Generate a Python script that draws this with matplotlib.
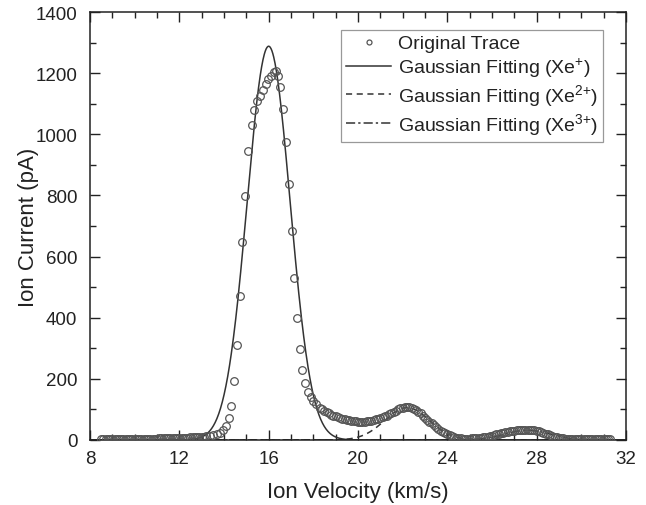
import matplotlib
matplotlib.use("Agg")
import matplotlib.pyplot as plt
import numpy as np
from matplotlib.ticker import MultipleLocator

plt.rcParams['font.family'] = ['Liberation Sans', 'DejaVu Sans']
plt.rcParams['mathtext.default'] = 'regular'

# Original trace (ion velocity in km/s, ion current in pA)
velocity = [
    8.5, 8.6, 8.7, 8.8, 8.9, 9.0, 9.1, 9.2, 9.3, 9.4,
    9.5, 9.6, 9.7, 9.8, 9.9, 10.0, 10.1, 10.2, 10.3, 10.4,
    10.5, 10.6, 10.7, 10.8, 10.9, 11.0, 11.1, 11.2, 11.3, 11.4,
    11.5, 11.6, 11.7, 11.8, 11.9, 12.0, 12.1, 12.2, 12.3, 12.4,
    12.5, 12.6, 12.7, 12.8, 12.9, 13.0, 13.1, 13.2,
    13.37, 13.52, 13.67, 13.82, 13.97, 14.10, 14.22, 14.33, 14.46, 14.58,
    14.71, 14.82, 14.94, 15.09, 15.24, 15.36, 15.48, 15.63, 15.76, 15.88,
    15.99, 16.10, 16.22, 16.32, 16.43, 16.52, 16.63, 16.78, 16.93, 17.03,
    17.15, 17.27, 17.40, 17.51, 17.63, 17.75, 17.88, 18.00, 18.14, 18.29,
    18.4, 18.5, 18.6, 18.7, 18.8, 18.9, 19.0, 19.1, 19.2, 19.3,
    19.4, 19.5, 19.6, 19.7, 19.8, 19.9, 20.0, 20.1, 20.2, 20.3,
    20.4, 20.5, 20.6, 20.7, 20.8, 20.9, 21.0, 21.1, 21.2, 21.3,
    21.4, 21.5, 21.6, 21.7, 21.8, 21.9, 22.0, 22.1, 22.2, 22.3,
    22.4, 22.5, 22.6, 22.7, 22.8, 22.9, 23.0, 23.1, 23.2, 23.3,
    23.4, 23.5, 23.6, 23.7, 23.8, 23.9, 24.0, 24.1, 24.2, 24.3,
    24.4, 24.5, 24.6, 24.7, 24.8, 24.9, 25.0, 25.1, 25.2, 25.3,
    25.4, 25.5, 25.6, 25.7, 25.8, 25.9, 26.0, 26.1, 26.2, 26.3,
    26.4, 26.5, 26.6, 26.7, 26.8, 26.9, 27.0, 27.1, 27.2, 27.3,
    27.4, 27.5, 27.6, 27.7, 27.8, 27.9, 28.0, 28.1, 28.2, 28.3,
    28.4, 28.5, 28.6, 28.7, 28.8, 28.9, 29.0, 29.1, 29.2, 29.3,
    29.4, 29.5, 29.6, 29.7, 29.8, 29.9, 30.0, 30.1, 30.2, 30.3,
    30.4, 30.5, 30.6, 30.7, 30.8, 30.9, 31.0, 31.1, 31.2, 31.3,
]
current = [
    3, 3, 3, 3, 3, 3, 3, 3, 3, 3,
    3, 3, 3, 3, 3, 3, 3, 4, 4, 4,
    4, 4, 4, 4, 4, 4, 5, 5, 5, 5,
    5, 5, 6, 6, 7, 7, 7, 8, 8, 8,
    9, 9, 9, 10, 10, 11, 11, 12,
    13, 15, 18, 24, 33, 47, 71, 110, 192, 311,
    470, 647, 799, 946, 1031, 1080, 1108, 1126, 1145, 1165,
    1181, 1190, 1203, 1206, 1192, 1154, 1083, 974, 837, 684,
    529, 398, 298, 230, 186, 158, 142, 129, 117, 106,
    100, 95, 91, 87, 83, 80, 77, 74, 71, 69,
    67, 65, 64, 62, 61, 61, 60, 60, 60, 60,
    61, 62, 63, 65, 67, 69, 71, 74, 77, 80,
    84, 88, 92, 96, 100, 103, 106, 107, 108, 107,
    105, 102, 98, 93, 87, 80, 73, 66, 60, 54,
    48, 42, 36, 31, 26, 22, 18, 15, 12, 10,
    8, 6, 5, 4, 4, 4, 4, 5, 5, 6,
    7, 8, 9, 10, 11, 13, 14, 16, 18, 20,
    22, 24, 26, 27, 29, 30, 31, 32, 33, 34,
    34, 34, 34, 34, 33, 32, 31, 29, 27, 24,
    21, 19, 16, 13, 11, 9, 8, 6, 5, 4,
    4, 3, 3, 3, 3, 3, 3, 3, 3, 3,
    3, 3, 3, 3, 3, 3, 3, 3, 3, 3,
]

# Gaussian fit parameters: Xe+, Xe2+, Xe3+
fit_labels = ['Gaussian Fitting (Xe$^{+}$)', 'Gaussian Fitting (Xe$^{2{+}}$)',
              'Gaussian Fitting (Xe$^{3{+}}$)']
fit_height = [1288, 106, 32]
fit_center = [16.0, 22.2, 27.6]
fit_sigma = [0.96, 1.0, 1.0]
fit_styles = ['-', (0, (4, 3)), (0, (6, 2, 1.5, 2))]


def gaussian(x, a, c, s):
    return a * np.exp(-(x - c) ** 2 / (2 * s ** 2))


fig = plt.figure(figsize=(6.46, 5.06), dpi=100)
ax = fig.add_axes([0.1393, 0.1285, 0.8297, 0.8458])

ax.plot(velocity, current, 'o', mfc='none', mec='#555555', mew=0.9, ms=5.5,
        label='Original Trace', zorder=3)

xs = np.linspace(8, 32, 1200)
for lab, a, c, s, ls in zip(fit_labels, fit_height, fit_center, fit_sigma, fit_styles):
    ax.plot(xs, gaussian(xs, a, c, s), color='#333333', lw=1.1, ls=ls, label=lab, zorder=2)

ax.set_xlim(8, 32)
ax.set_ylim(0, 1400)
ax.xaxis.set_major_locator(MultipleLocator(4))
ax.xaxis.set_minor_locator(MultipleLocator(1))
ax.yaxis.set_major_locator(MultipleLocator(200))
ax.yaxis.set_minor_locator(MultipleLocator(100))
ax.tick_params(which='both', direction='in', top=True, right=True, width=1.0,
               color='#222222', labelsize=13.5, labelcolor='#222222')
ax.tick_params(which='major', length=7)
ax.tick_params(which='minor', length=4)
ax.tick_params(axis='x', pad=7)
ax.tick_params(axis='y', pad=9)
for sp in ax.spines.values():
    sp.set_linewidth(1.1)
    sp.set_color('#222222')

ax.set_xlabel('Ion Velocity (km/s)', fontsize=16, color='#222222', labelpad=10)
ax.set_ylabel('Ion Current (pA)', fontsize=16, color='#222222', labelpad=-2.5)

leg = ax.legend(loc='upper right', bbox_to_anchor=(0.957, 0.958), fontsize=14,
                fancybox=False, edgecolor='#999999', framealpha=1,
                handlelength=2.3, handletextpad=0.35, borderpad=0.25,
                labelspacing=0.16, borderaxespad=0.0, markerscale=0.65)
leg.get_frame().set_linewidth(0.9)
for t in leg.get_texts():
    t.set_color('#222222')

fig.savefig('out.png', dpi=100)
